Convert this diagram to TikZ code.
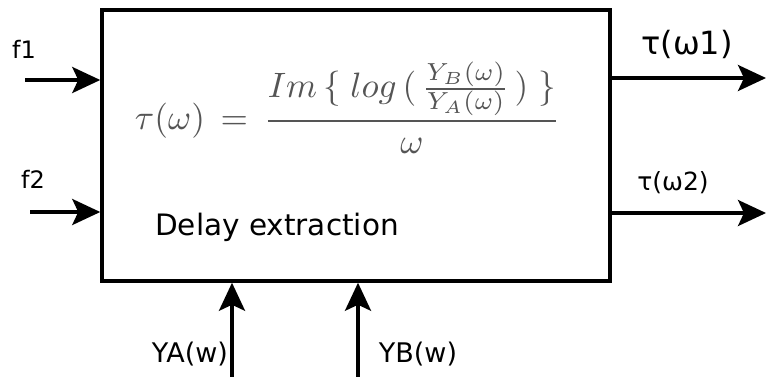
\documentclass[tikz,border=0pt]{standalone}
\usepackage{fontspec}
\usepackage{amsmath}
\usepackage{graphicx}
\usetikzlibrary{arrows.meta}
\newfontfamily\labfont{DejaVu Sans}
\definecolor{fgray}{RGB}{85,85,85}
\begin{document}
\begin{tikzpicture}[x=1pt,y=-1pt,
  wire/.style={line width=3.5pt, -{Stealth[length=28pt,width=26pt,inset=6pt]}},
  lab/.style={font=\labfont\fontsize{24}{28}\selectfont, inner sep=0pt},
  blk/.style={draw, line width=3.5pt, minimum width=508pt, minimum height=271pt, inner sep=0pt}]
\useasboundingbox (0,0) rectangle (766,376);
\node[blk] (box) at (356,145.5) {};
% formula
\node[fgray, inner sep=0pt] (formula) at (347.5,108)
  {\resizebox{425pt}{!}{$\displaystyle \tau(\omega)\,=\,\frac{Im\,\{\;log\,(\,\frac{Y_B(\omega)}{Y_A(\omega)}\,)\;\}}{\omega}$}};
\node[font=\labfont\fontsize{29.5}{34}\selectfont, inner sep=0pt, anchor=base west] (title) at (155,235) {Delay extraction};
% inputs
\coordinate (f1s) at (25,80);
\coordinate (f2s) at (30,212);
\draw[wire] (f1s) -- (f1s -| box.west);
\draw[wire] (f2s) -- (f2s -| box.west);
\node[lab] (f1) at (24,49) {f1};
\node[lab] (f2) at (33,179) {f2};
% outputs
\coordinate (o1) at (766,78);
\coordinate (o2) at (766,213);
\draw[wire] (o1 -| box.east) -- (o1);
\draw[wire] (o2 -| box.east) -- (o2);
\node[lab, font=\labfont\fontsize{32}{36}\selectfont] (t1) at (687,44) {τ(ω1)};
\node[lab, font=\labfont\fontsize{25}{30}\selectfont] (t2) at (673,183) {τ(ω2)};
% bottom inputs
\coordinate (ya) at (232,378);
\coordinate (yb) at (358,378);
\draw[wire] (ya) -- (ya |- box.south);
\draw[wire] (yb) -- (yb |- box.south);
\node[lab, font=\labfont\fontsize{27}{32}\selectfont] (yal) at (190,354) {YA(w)};
\node[lab, font=\labfont\fontsize{27}{32}\selectfont] (ybl) at (418,354) {YB(w)};
\end{tikzpicture}
\end{document}
